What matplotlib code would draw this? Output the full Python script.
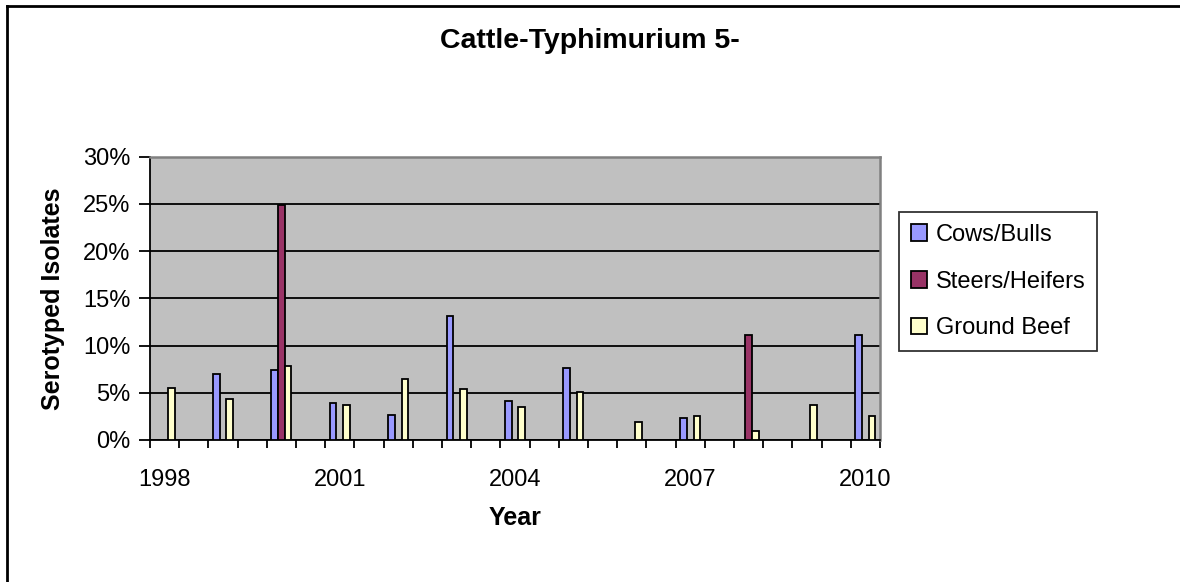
import matplotlib
matplotlib.use('Agg')
import matplotlib.pyplot as plt
from matplotlib.lines import Line2D
from matplotlib.ticker import FixedLocator, FuncFormatter
import numpy as np

plt.rcParams['font.family'] = ['Liberation Sans', 'DejaVu Sans']

# Data (percent of serotyped isolates), None = no bar
years = list(range(1998, 2011))
cows_bulls = [None, 7.0, 7.45, 3.9, 2.7, 13.1, 4.1, 7.6, None, 2.35, None, None, 11.1]
steers_heifers = [None, None, 24.9, None, None, None, None, None, None, None, 11.1, None, None]
ground_beef = [5.5, 4.3, 7.8, 3.7, 6.45, 5.45, 3.5, 5.05, 1.95, 2.55, 0.95, 3.7, 2.55]
series_names = ['Cows/Bulls', 'Steers/Heifers', 'Ground Beef']
series_colors = ['#9999FF', '#993366', '#FFFFCC']
label_years = [1998, 2001, 2004, 2007, 2010]

fig = plt.figure(figsize=(11.8, 5.82), dpi=100)
ax = fig.add_axes([150 / 1180, 1 - 440 / 582, 730 / 1180, (440 - 156.7) / 582])
ax.set_facecolor('#C0C0C0')

bar_w = 0.115
x = np.array(years, dtype=float)
for k, (vals, name, col) in enumerate(zip([cows_bulls, steers_heifers, ground_beef],
                                          series_names, series_colors)):
    v = np.array([np.nan if a is None else a for a in vals], dtype=float)
    ax.bar(x + (k - 1) * bar_w, v, width=bar_w, color=col, edgecolor='black',
           linewidth=1.3, label=name, zorder=3)

ax.set_xlim(1997.75, 2010.25)
ax.set_ylim(0, 30)
ax.set_yticks(range(0, 31, 5))
ax.yaxis.set_major_formatter(FuncFormatter(lambda v, p: f'{v:.0f}%'))
ax.grid(axis='y', color='black', linewidth=1.3, zorder=1)

ax.xaxis.set_major_locator(FixedLocator(label_years))
ax.xaxis.set_minor_locator(FixedLocator(np.arange(1997.75, 2010.3, 0.5)))
ax.tick_params(axis='x', which='major', length=0, pad=21, labelsize=17)
ax.tick_params(axis='x', which='minor', length=6, width=1.3, color='black', direction='out')
ax.tick_params(axis='y', length=8, width=1.3, labelsize=17, pad=6)

for s in ['top', 'right']:
    ax.spines[s].set_color('#808080')
    ax.spines[s].set_linewidth(1.8)
for s in ['left', 'bottom']:
    ax.spines[s].set_color('black')
    ax.spines[s].set_linewidth(1.3)

ax.set_xlabel('Year', fontsize=18, fontweight='bold', labelpad=11)
ax.set_ylabel('Serotyped Isolates', fontsize=18, fontweight='bold', labelpad=13)
fig.text(0.5, 1 - 41 / 582, 'Cattle-Typhimurium 5-', ha='center', va='center',
         fontsize=20.5, fontweight='bold')

leg = ax.legend(loc='upper left', bbox_to_anchor=(899 / 1180, 1 - 212 / 582),
                bbox_transform=fig.transFigure, fontsize=17, frameon=True,
                fancybox=False, edgecolor='black', borderpad=0.5,
                labelspacing=1.05, handlelength=0.7, handleheight=0.7,
                handletextpad=0.35, borderaxespad=0)
leg.get_frame().set_linewidth(1.3)

# outer chart frame (only top and left visible)
fig.add_artist(Line2D([7 / 1180, 1], [1 - 6 / 582, 1 - 6 / 582], color='black', linewidth=2))
fig.add_artist(Line2D([7 / 1180, 7 / 1180], [0, 1 - 6 / 582], color='black', linewidth=2))

fig.savefig('out.png', dpi=100)
